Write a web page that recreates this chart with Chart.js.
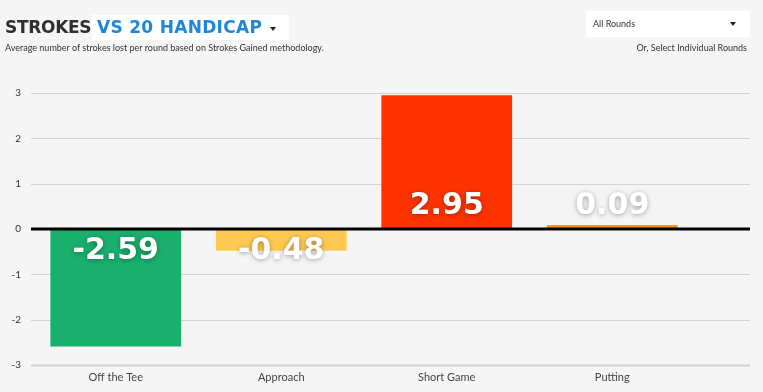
<!DOCTYPE html>
<html>
<head>
<meta charset="utf-8">
<script src="https://cdn.jsdelivr.net/npm/chart.js@4/dist/chart.umd.min.js"></script>
<style>
html,body{margin:0;padding:0;background:#f5f5f5;width:763px;height:392px;overflow:hidden;}
#wrap{position:absolute;left:0;top:0;width:763px;height:392px;}
canvas{position:absolute;left:0;top:0;}
.t1{position:absolute;left:5px;top:17px;font:bold 17px "DejaVu Sans";color:#2f2f2f;letter-spacing:-0.3px;}
.tbox{position:absolute;left:92px;top:15px;width:197px;height:25px;background:#fff;}
.t2{position:absolute;left:97px;top:17px;font:bold 17px "DejaVu Sans";color:#1f87d6;letter-spacing:0.3px;}
.caret{position:absolute;width:0;height:0;border-left:3.5px solid transparent;border-right:3.5px solid transparent;border-top:4px solid #222;}
.sub{position:absolute;left:5px;top:42px;font:9px Lato;color:#333;}
.dd{position:absolute;left:586px;top:11px;width:164px;height:26px;background:#fff;}
.ddt{position:absolute;left:593px;top:18px;font:9px Lato;color:#333;}
.or{position:absolute;right:16px;top:42px;font:9px Lato;color:#333;}
</style>
</head>
<body>
<div id="wrap">
<canvas id="c" width="763" height="392"></canvas>
<div class="tbox"></div>
<div class="t1">STROKES</div>
<div class="t2">VS 20 HANDICAP</div>
<div class="caret" style="left:270px;top:27px"></div>
<div class="sub">Average number of strokes lost per round based on Strokes Gained methodology.</div>
<div class="dd"></div>
<div class="ddt">All Rounds</div>
<div class="caret" style="left:730px;top:22px"></div>
<div class="or">Or, Select Individual Rounds</div>
</div>
<script>
const categories = ["Off the Tee", "Approach", "Short Game", "Putting"];
const strokes = [-2.59, -0.48, 2.95, 0.09];
const barColors = ["#1aaf6c", "#fec852", "#ff3300", "#f7941d"];
const yTicks = [-3, -2, -1, 0, 1, 2, 3];

const gridPlugin = {
  id: 'fullGrid',
  beforeDatasetsDraw(chart) {
    const ctx = chart.ctx, y = chart.scales.y;
    const left = chart.chartArea.left - 2, right = chart.width - 13;
    ctx.save();
    yTicks.forEach(v => {
      if (v === 0) return;
      const py = Math.round(y.getPixelForValue(v)) + 0.5;
      ctx.strokeStyle = '#d2d2d2';
      ctx.lineWidth = v === -3 ? 2 : 1.2;
      ctx.beginPath(); ctx.moveTo(left, py); ctx.lineTo(right, py); ctx.stroke();
    });
    ctx.restore();
  },
  afterDatasetsDraw(chart) {
    const ctx = chart.ctx, y = chart.scales.y;
    const left = chart.chartArea.left - 2, right = chart.width - 13;
    const zy = y.getPixelForValue(0);
    ctx.save();
    ctx.strokeStyle = '#000';
    ctx.lineWidth = 3;
    ctx.beginPath(); ctx.moveTo(left, zy); ctx.lineTo(right, zy); ctx.stroke();
    const meta = chart.getDatasetMeta(0);
    ctx.font = 'bold 30px "DejaVu Sans"';
    ctx.textAlign = 'center';
    ctx.textBaseline = 'middle';
    ctx.fillStyle = '#fff';
    ctx.shadowColor = 'rgba(0,0,0,0.35)';
    ctx.shadowBlur = 5;
    ctx.shadowOffsetY = 1;
    meta.data.forEach((bar, i) => {
      const v = strokes[i];
      const ty = v >= 0 ? zy - 23 : zy + 22;
      ctx.fillText(v.toFixed(2), bar.x, ty);
    });
    ctx.restore();
  }
};

new Chart(document.getElementById('c'), {
  type: 'bar',
  data: {
    labels: categories,
    datasets: [{
      data: strokes,
      backgroundColor: barColors,
      borderWidth: 0,
      categoryPercentage: 1,
      barPercentage: 0.79
    }]
  },
  options: {
    responsive: false,
    animation: false,
    devicePixelRatio: 1,
    layout: { padding: { top: 93, right: 68, bottom: 0, left: 0 } },
    plugins: { legend: { display: false }, tooltip: { enabled: false } },
    scales: {
      x: {
        grid: { display: false, drawTicks: false },
        border: { display: false },
        ticks: { color: '#444', font: { family: 'Lato', size: 11 }, padding: 6 },
        afterFit(s) { s.height = 27; }
      },
      y: {
        min: -3, max: 3,
        afterBuildTicks(s) { s.ticks = yTicks.map(v => ({ value: v })); },
        grid: { display: false, drawTicks: false },
        border: { display: false },
        ticks: { color: '#333', font: { family: 'Lato', size: 10 }, padding: 12 },
        afterFit(s) { s.width = 33; }
      }
    }
  },
  plugins: [gridPlugin]
});
</script>
</body>
</html>
